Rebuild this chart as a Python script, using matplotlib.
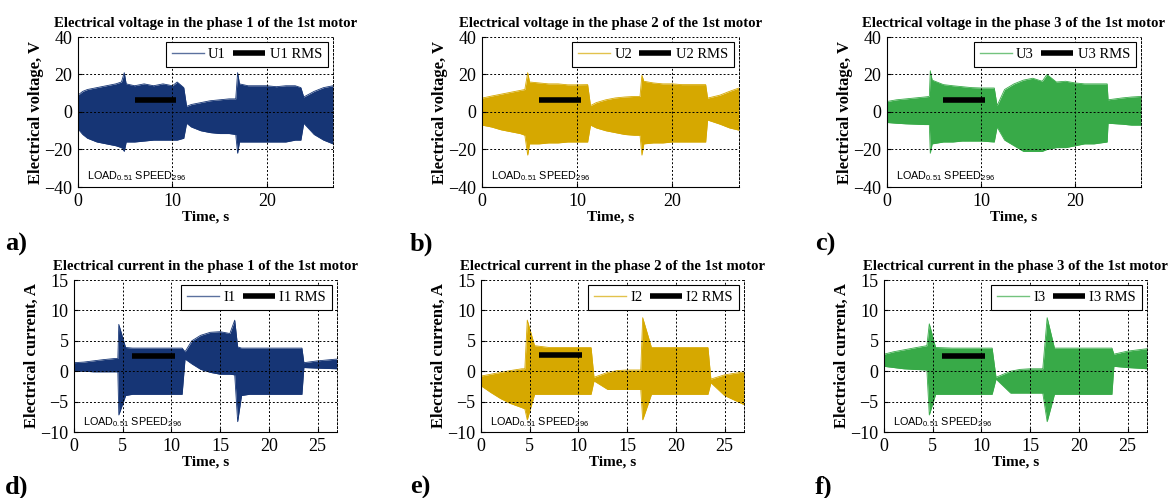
import matplotlib
matplotlib.use('Agg')
import matplotlib.pyplot as plt

plt.rcParams['font.family'] = ['Liberation Serif', 'DejaVu Serif']

# --- envelopes (time s, upper, lower) ---
t_u1 = [0, 0.5, 1, 2, 3, 4, 4.6, 4.9, 5.1, 6, 7, 8, 9, 10, 10.5, 11.2, 11.5, 12, 13, 14, 15, 16, 16.7,
        16.9, 17.1, 18, 19, 20, 21, 22, 23, 23.6, 23.9, 25, 26, 27]
u1_hi = [9, 11, 12, 13, 14, 15, 16, 21, 15, 14, 15, 14, 15, 14, 16, 13, 3, 4, 5, 6, 6.5, 7, 7,
         21, 15, 14, 14, 14, 13.5, 14, 14, 13, 8, 11, 13, 14]
u1_lo = [-9, -12, -14, -16, -17, -18, -19, -21, -16, -16, -15.5, -15, -15, -15, -15, -14, -6, -8, -10, -11,
         -11.5, -11.5, -12, -22, -16, -16, -16, -16, -16, -16, -15, -15, -6, -12, -15, -17]

t_u2 = [0, 1, 2, 3, 4, 4.5, 4.8, 5.0, 6, 7, 8, 9, 10, 11.1, 11.4, 12, 13, 14, 15, 16, 16.6,
        16.8, 17.0, 18, 19, 20, 21, 22, 23.5, 23.7, 25, 26, 27]
u2_hi = [7.4, 8.5, 9.5, 10.5, 11.5, 12, 21, 16, 15.5, 15, 15, 14.5, 14.5, 14.6, 3.4, 5, 6.5, 7.5, 8, 8.3, 8.3,
         19.6, 16.4, 15.5, 15, 15, 14.6, 14.6, 14.6, 7.4, 9, 11, 12.8]
u2_lo = [-7, -8, -9.5, -10.5, -11.5, -12.4, -23, -17, -17, -16.5, -16.5, -16, -16, -16, -7, -8.5, -10, -11, -12,
         -12.4, -12.4, -23, -17, -16.5, -16.5, -16, -16, -16, -16, -4.3, -6.5, -8.5, -9.7]

t_u3 = [0, 1, 2, 3, 4, 4.5, 4.6, 4.8, 6, 7, 8, 9, 10, 11.4, 11.7, 12.5, 13.5, 14.5, 15.5, 16.5, 17, 18,
        19, 20, 21, 22, 23.4, 23.5, 25, 26, 27]
u3_hi = [5.6, 6.5, 7, 7.5, 8, 8.3, 22, 17, 14.6, 14, 13.5, 13, 12.8, 12.8, 3.4, 12, 15, 17, 18, 16.4, 20, 16,
         16.4, 15.5, 15, 15, 15, 6.5, 7.5, 8, 8.3]
u3_lo = [-5.6, -6, -6.3, -6.5, -6.7, -6.7, -22, -17, -16, -16, -15.5, -15.5, -15.5, -16, -8, -15, -18, -21,
         -21, -21, -20, -19, -19, -18, -17, -17, -16, -6, -6.5, -7, -7]

t_i1 = [0, 1, 2, 3, 4.25, 4.5, 4.6, 5.3, 6, 8, 10, 11.1, 11.4, 12.1, 13, 14, 15, 16, 16.5, 16.8,
        17.2, 18, 20, 22, 23.4, 23.6, 25, 27]
i1_hi = [1.4, 1.5, 1.7, 1.9, 2.1, 2.1, 7.7, 3.9, 3.8, 3.8, 3.8, 3.8, 3.2, 5.0, 5.9, 6.4, 6.5, 6.2, 8.4, 4.0,
         3.8, 3.8, 3.8, 3.8, 3.8, 1.4, 1.7, 2.0]
i1_lo = [0.0, 0.0, -0.1, -0.1, -0.1, -0.1, -7.2, -4.0, -3.8, -3.8, -3.8, -3.8, 2.0, 1.2, 0.3, -0.2, -0.5,
         -0.5, -0.6, -8.3, -4.0, -3.8, -3.8, -3.8, -3.8, 0.6, 0.5, 0.4]

t_i2 = [0, 1, 2, 3, 4.2, 4.5, 4.75, 5.5, 7, 9, 11.3, 11.6, 13, 14, 15, 16.4, 16.6, 17.5, 19, 21, 23.3,
        23.6, 25, 27]
i2_hi = [-0.8, -0.5, -0.2, 0.1, 0.4, 0.4, 8.4, 4.2, 3.9, 3.9, 3.9, -1.0, -0.2, 0.1, 0.2, 0.2, 8.8, 3.9, 3.9,
         3.9, 3.9, -1.3, -0.6, -0.1]
i2_lo = [-2.4, -3.5, -4.5, -5.3, -6.0, -6.2, -8.0, -3.8, -3.8, -3.8, -3.8, -1.6, -3.0, -3.0, -3.0, -3.0,
         -8.0, -3.8, -3.8, -3.8, -3.8, -1.9, -4.0, -5.5]

t_i3 = [0, 1, 2, 3, 4.4, 4.65, 5.3, 7, 9, 11.1, 11.5, 13, 14, 15, 16.3, 16.75, 17.5, 19, 21, 23.4,
        23.6, 25, 27]
i3_hi = [2.8, 3.2, 3.5, 3.8, 4.2, 7.8, 3.9, 3.8, 3.8, 3.8, -1.0, 0.0, 0.3, 0.4, 0.4, 8.8, 3.8, 3.8, 3.8,
         3.8, 2.8, 3.3, 3.7]
i3_lo = [0.8, 0.6, 0.4, 0.3, 0.2, -7.2, -3.8, -3.8, -3.8, -3.8, -1.3, -3.6, -3.6, -3.6, -3.6, -8.3, -3.8,
         -3.8, -3.8, -3.8, 0.8, 0.6, 0.4]

# RMS marker segments
rms_t = [6.0, 10.4]
u_rms = [6.2, 6.6, 6.5]
i_rms = [2.45, 2.6, 2.45]

colors = ['#163575', '#d6a800', '#38aa48']

W, H = 1173, 498
fig = plt.figure(figsize=(W / 100, H / 100), dpi=100)

# axes boxes in pixels: left, right, top, bottom
boxes_top = [(78, 333), (482, 739), (887, 1141)]
boxes_bot = [(74, 337), (481, 744), (884, 1147)]


def make_ax(x0, x1, top, bot):
    return fig.add_axes([x0 / W, (H - bot) / H, (x1 - x0) / W, (bot - top) / H])


def style(ax, xticks, yticks, ylim):
    ax.set_xlim(0, 27)
    ax.set_ylim(*ylim)
    ax.set_xticks(xticks)
    ax.set_yticks(yticks)
    ax.tick_params(direction='in', length=3, labelsize=13)
    ax.tick_params(axis='x', pad=4)
    ax.tick_params(axis='y', pad=4)
    ax.grid(True, color='black', linestyle=(0, (2, 2)), linewidth=0.7)
    ax.set_axisbelow(False)
    ax.spines['top'].set_visible(False)
    ax.spines['right'].set_linestyle((0, (2, 2)))
    ax.spines['right'].set_linewidth(0.7)
    for s in ['left', 'bottom']:
        ax.spines[s].set_linewidth(0.8)


def panel(ax, t, hi, lo, col, name, rms, title, ylabel, load_y):
    ax.fill_between(t, lo, hi, color=col, linewidth=0, zorder=2)
    ax.plot(t, hi, color=col, lw=0.6, zorder=2, label=name)
    ax.plot(t, lo, color=col, lw=0.6, zorder=2)
    ax.plot(rms_t, [rms, rms], color='black', lw=4, solid_capstyle='butt', zorder=3,
            label=name + ' RMS')
    leg = ax.legend(loc='upper right', ncol=2, fontsize=10.5, fancybox=False, framealpha=1,
                    edgecolor='black', handlelength=2.2, handletextpad=0.3, columnspacing=0.5,
                    borderpad=0.4, borderaxespad=0.35)
    leg.get_frame().set_linewidth(0.8)
    leg.get_lines()[0].set_linewidth(1.0)
    leg.get_lines()[0].set_alpha(0.7)
    ax.set_title(title, fontsize=10.6, fontweight='bold', pad=7)
    ax.set_ylabel(ylabel, fontsize=12, fontweight='bold', labelpad=0)
    ax.set_xlabel('Time, s', fontsize=11, fontweight='bold', labelpad=1)
    ax.text(0.95, load_y, r'LOAD$_{\mathregular{0.51}}$ SPEED$_{\mathregular{296}}$',
            family='Liberation Sans', fontsize=7.8, zorder=4)


u_data = [(t_u1, u1_hi, u1_lo), (t_u2, u2_hi, u2_lo), (t_u3, u3_hi, u3_lo)]
i_data = [(t_i1, i1_hi, i1_lo), (t_i2, i2_hi, i2_lo), (t_i3, i3_hi, i3_lo)]
letters_top = ['a)', 'b)', 'c)']
letters_bot = ['d)', 'e)', 'f)']
label_x = [5, 410, 815]

for k in range(3):
    ax = make_ax(boxes_top[k][0], boxes_top[k][1], 37, 187)
    style(ax, [0, 10, 20], [-40, -20, 0, 20, 40], (-40, 40))
    t, hi, lo = u_data[k]
    panel(ax, t, hi, lo, colors[k], 'U%d' % (k + 1), u_rms[k],
          'Electrical voltage in the phase %d of the 1st motor' % (k + 1),
          'Electrical voltage, V', -36)
    fig.text(label_x[k] / W, 1 - 251 / H, letters_top[k], fontsize=19, fontweight='bold')

    ax = make_ax(boxes_bot[k][0], boxes_bot[k][1], 280, 432)
    style(ax, [0, 5, 10, 15, 20, 25], [-10, -5, 0, 5, 10, 15], (-10, 15))
    t, hi, lo = i_data[k]
    panel(ax, t, hi, lo, colors[k], 'I%d' % (k + 1), i_rms[k],
          'Electrical current in the phase %d of the 1st motor' % (k + 1),
          'Electrical current, A', -8.9)
    fig.text(label_x[k] / W, 1 - 494 / H, letters_bot[k], fontsize=19, fontweight='bold')

fig.savefig('out.png', dpi=100)
